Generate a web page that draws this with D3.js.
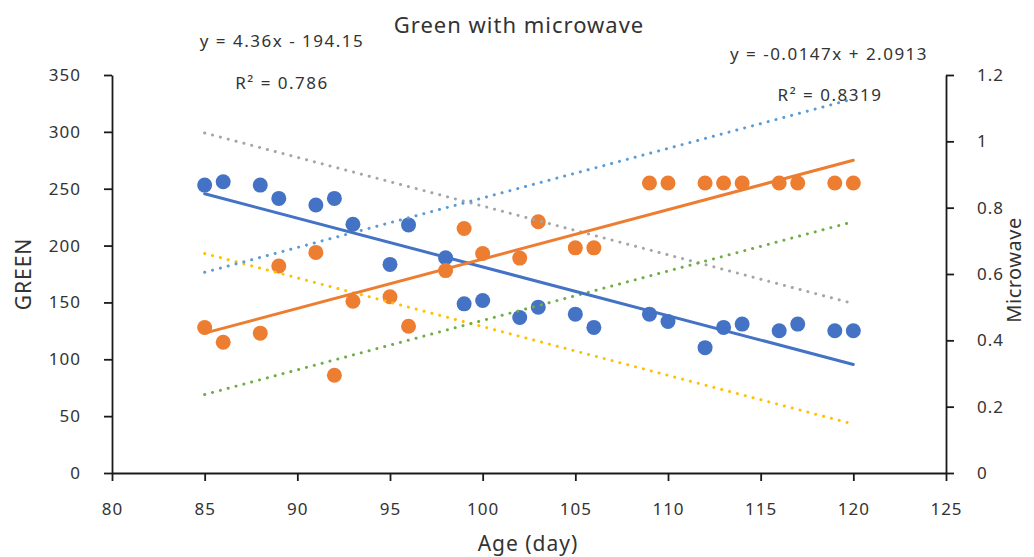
<!DOCTYPE html>
<html>
<head>
<meta charset="utf-8">
<script src="https://cdn.jsdelivr.net/npm/d3@7"></script>
<style>
  body { margin: 0; background: #fff; }
  text { font-family: "Noto Sans", "Open Sans", sans-serif; fill: #333; }
</style>
</head>
<body>
<svg id="chart" width="1034" height="557"></svg>
<script>
// data
let days = [85, 86, 88, 89, 91, 92, 93, 95, 96, 98, 99, 100, 102, 103, 105, 106, 109, 110, 112, 113, 114, 116, 117, 119, 120];
// GREEN values, left axis (orange points)
let green = [128, 115, 123, 182, 194, 86, 151, 155, 129, 178, 215, 193, 189, 221, 198, 198, 255, 255, 255, 255, 255, 255, 255, 255, 255];
// Microwave values, right axis (blue points)
let microwave = [0.868, 0.878, 0.868, 0.828, 0.808, 0.828, 0.750, 0.629, 0.748, 0.649, 0.510, 0.520, 0.469, 0.500, 0.479, 0.439, 0.479, 0.457, 0.378, 0.439, 0.449, 0.429, 0.449, 0.429, 0.429];

let x_ticks = [80, 85, 90, 95, 100, 105, 110, 115, 120, 125];
let left_ticks = [0, 50, 100, 150, 200, 250, 300, 350];
let right_ticks = [0, 0.2, 0.4, 0.6, 0.8, 1, 1.2];
let right_tick_labels = ['0', '0.2', '0.4', '0.6', '0.8', '1', '1.2'];

// trendline end points [day, value]
let trend_green = [[85, 123], [120, 275]];          // orange solid, left axis
let trend_microwave = [[85, 0.8418], [120, 0.3273]]; // blue solid, right axis
let trend_blue_dot = [[85, 176.5], [120, 329]];     // left axis
let trend_gray_dot = [[85, 299], [120, 149]];
let trend_yellow_dot = [[85, 193], [120, 43]];
let trend_green_dot = [[85, 69], [120, 221]];

let svg = d3.select('#chart');

let xScale = d3.scaleLinear().domain([80, 125]).range([112, 946]);
let yLeft = d3.scaleLinear().domain([0, 350]).range([473, 75]);
let yRight = d3.scaleLinear().domain([0, 1.2]).range([473, 75]);

// axes
let gx = svg.append('g')
    .attr('transform', 'translate(0,473)')
    .call(d3.axisBottom(xScale).tickValues(x_ticks).tickSize(8).tickSizeOuter(0).tickPadding(22));
let gl = svg.append('g')
    .attr('transform', 'translate(112,0)')
    .call(d3.axisLeft(yLeft).tickValues(left_ticks).tickSize(8).tickSizeOuter(0).tickPadding(23));
let gr = svg.append('g')
    .attr('transform', 'translate(946,0)')
    .call(d3.axisRight(yRight).tickValues(right_ticks).tickSize(8).tickSizeOuter(0).tickPadding(23)
        .tickFormat((d, i) => right_tick_labels[i]));

for (let g of [gx, gl, gr]) {
    g.select('.domain').attr('stroke', '#1a1a1a').attr('stroke-width', 1.8);
    g.selectAll('.tick line').attr('stroke', '#1a1a1a').attr('stroke-width', 1.8);
    g.selectAll('.tick text').attr('font-size', 17).attr('fill', '#333')
        .attr('letter-spacing', 1)
        .attr('font-family', '"Noto Sans", sans-serif');
}

// points
svg.append('g').selectAll('circle.mw')
    .data(days)
    .join('circle')
    .attr('cx', d => xScale(d))
    .attr('cy', (d, i) => yRight(microwave[i]))
    .attr('r', 7.5)
    .attr('fill', '#4472C4');

svg.append('g').selectAll('circle.gr')
    .data(days)
    .join('circle')
    .attr('cx', d => xScale(d))
    .attr('cy', (d, i) => yLeft(green[i]))
    .attr('r', 7.5)
    .attr('fill', '#ED7D31');

// trend lines
let lineL = d3.line().x(d => xScale(d[0])).y(d => yLeft(d[1]));
let lineR = d3.line().x(d => xScale(d[0])).y(d => yRight(d[1]));

let dotted = [
    [trend_gray_dot, '#A5A5A5'],
    [trend_yellow_dot, '#FFC000'],
    [trend_green_dot, '#70AD47'],
    [trend_blue_dot, '#5B9BD5']
];
for (let [pts, col] of dotted) {
    svg.append('path')
        .attr('d', lineL(pts))
        .attr('fill', 'none')
        .attr('stroke', col)
        .attr('stroke-width', 3)
        .attr('stroke-linecap', 'round')
        .attr('stroke-dasharray', '0.1 8');
}

svg.append('path')
    .attr('d', lineR(trend_microwave))
    .attr('fill', 'none')
    .attr('stroke', '#4472C4')
    .attr('stroke-width', 3)
    .attr('stroke-linecap', 'round');

svg.append('path')
    .attr('d', lineL(trend_green))
    .attr('fill', 'none')
    .attr('stroke', '#ED7D31')
    .attr('stroke-width', 3)
    .attr('stroke-linecap', 'round');

// texts
svg.append('text').attr('x', 519).attr('y', 33).attr('text-anchor', 'middle')
    .attr('font-size', 22).attr('letter-spacing', 1).text('Green with microwave');

svg.append('text').attr('x', 282).attr('y', 47).attr('text-anchor', 'middle')
    .attr('font-size', 17).attr('letter-spacing', 1.5).text('y = 4.36x - 194.15');
svg.append('text').attr('x', 282).attr('y', 89).attr('text-anchor', 'middle')
    .attr('font-size', 17).attr('letter-spacing', 1.5).text('R² = 0.786');
svg.append('text').attr('x', 829).attr('y', 60).attr('text-anchor', 'middle')
    .attr('font-size', 17).attr('letter-spacing', 1.5).text('y = -0.0147x + 2.0913');
svg.append('text').attr('x', 830).attr('y', 101).attr('text-anchor', 'middle')
    .attr('font-size', 17).attr('letter-spacing', 1.5).text('R² = 0.8319');

svg.append('text').attr('x', 528).attr('y', 551).attr('text-anchor', 'middle')
    .attr('font-size', 21).attr('letter-spacing', 1).text('Age (day)');

svg.append('text').attr('transform', 'translate(31,274) rotate(-90)').attr('text-anchor', 'middle')
    .attr('font-size', 21).attr('letter-spacing', 1).text('GREEN');
svg.append('text').attr('transform', 'translate(1021,270) rotate(-90)').attr('text-anchor', 'middle')
    .attr('font-size', 20).attr('letter-spacing', 0.5).text('Microwave');
</script>
</body>
</html>
